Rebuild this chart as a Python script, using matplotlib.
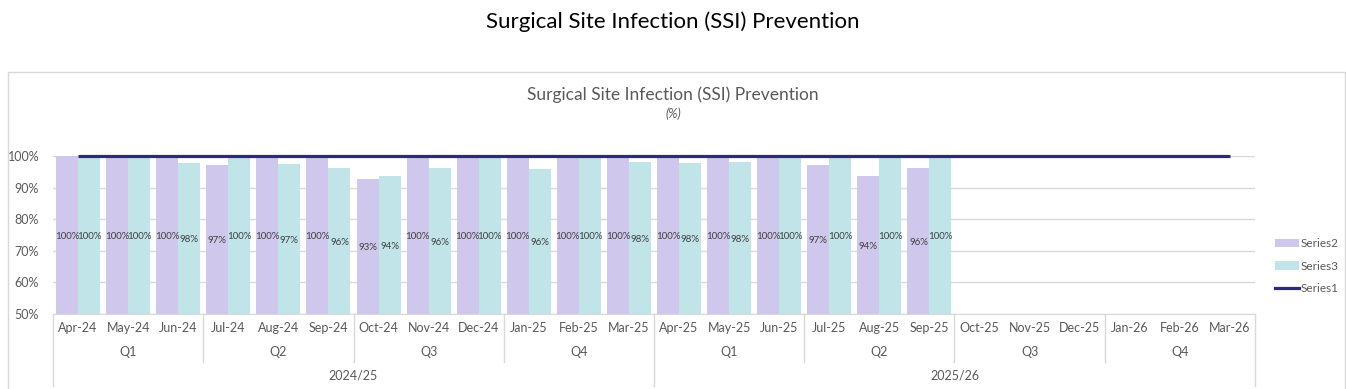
import numpy as np
import matplotlib
matplotlib.use("Agg")
import matplotlib.pyplot as plt
from matplotlib.patches import Rectangle, Patch
from matplotlib.lines import Line2D
import matplotlib.transforms as mtransforms

months = ["Apr-24", "May-24", "Jun-24", "Jul-24", "Aug-24", "Sep-24", "Oct-24", "Nov-24",
          "Dec-24", "Jan-25", "Feb-25", "Mar-25", "Apr-25", "May-25", "Jun-25", "Jul-25",
          "Aug-25", "Sep-25", "Oct-25", "Nov-25", "Dec-25", "Jan-26", "Feb-26", "Mar-26"]
quarters = ["Q1", "Q2", "Q3", "Q4", "Q1", "Q2", "Q3", "Q4"]
years = ["2024/25", "2025/26"]
nan = np.nan
series2 = [100, 100, 100, 97.1, 100, 100, 92.7, 100, 100, 100, 100, 100,
           100, 100, 100, 97.2, 93.7, 96.2, nan, nan, nan, nan, nan, nan]
series3 = [100, 100, 97.8, 100, 97.4, 96.2, 93.6, 96.2, 100, 95.9, 100, 98.1,
           97.8, 98.1, 100, 100, 100, 100, nan, nan, nan, nan, nan, nan]
series1 = [100] * 24

plt.rcParams['font.family'] = ['Lato', 'DejaVu Sans']
W, H = 1346, 389
fig = plt.figure(figsize=(W / 100, H / 100), dpi=100)

def fx(px):
    return px / W

def fy(py):
    return 1 - py / H

# chart area border
fig.patches.append(Rectangle((fx(8), fy(395)), fx(1345) - fx(8), fy(72) - fy(395),
                             transform=fig.transFigure, fill=False, edgecolor="#D9D9D9", lw=1))

fig.text(0.5, fy(22), "Surgical Site Infection (SSI) Prevention", ha="center", va="center",
         fontsize=16, color="black")
fig.text(0.5, fy(95), "Surgical Site Infection (SSI) Prevention", ha="center", va="center",
         fontsize=12.5, color="#595959")
fig.text(0.5, fy(114), "(%)", ha="center", va="center", fontsize=9, style="italic", color="#595959")

left, right, top, bottom = 53, 1255, 156, 314
ax = fig.add_axes([fx(left), fy(bottom), fx(right) - fx(left), fy(top) - fy(bottom)])
x = np.arange(len(months))
c2 = "#D0C8EC"
c3 = "#C0E4E8"
cl = "#2E2A7A"
bw = 0.44
ax.bar(x - bw, series2, width=bw, align="edge", color=c2, bottom=0)
ax.bar(x, series3, width=bw, align="edge", color=c3, bottom=0)
ax.plot(x, series1, color=cl, lw=2.3, clip_on=False, zorder=5, solid_capstyle="butt")
ax.set_ylim(50, 100)
ax.set_xlim(-0.5, len(months) - 0.5)
ax.set_yticks([50, 60, 70, 80, 90, 100])
ax.set_yticklabels([f"{v}%" for v in [50, 60, 70, 80, 90, 100]], fontsize=9, color="#595959")
ax.tick_params(axis="y", length=0, pad=10)
ax.tick_params(axis="x", length=0, labelbottom=False)
ax.grid(axis="y", color="#D9D9D9", lw=1)
ax.set_axisbelow(True)
for s in ["top", "right", "left"]:
    ax.spines[s].set_visible(False)
ax.spines["bottom"].set_color("#D9D9D9")

for xi, v in zip(x, series2):
    if not np.isnan(v):
        ax.text(xi - bw / 2, (50 + v) / 2 - 0.4, f"{v:.0f}%", ha="center", va="center",
                fontsize=7, color="#404040")
for xi, v in zip(x, series3):
    if not np.isnan(v):
        ax.text(xi + bw / 2, (50 + v) / 2 - 0.4, f"{v:.0f}%", ha="center", va="center",
                fontsize=7, color="#404040")

trans = mtransforms.blended_transform_factory(ax.transData, fig.transFigure)
for xi, m in zip(x, months):
    ax.text(xi, fy(328), m, transform=trans, ha="center", va="center", fontsize=9, color="#595959")
for qi, q in enumerate(quarters):
    ax.text(qi * 3 + 1, fy(352), q, transform=trans, ha="center", va="center", fontsize=9, color="#595959")
for yi, yl in enumerate(years):
    ax.text(yi * 12 + 5.5, fy(376), yl, transform=trans, ha="center", va="center", fontsize=9, color="#595959")

for b in range(0, 25, 3):
    xb = b - 0.5
    ybot = fy(386) if b % 12 == 0 else fy(362)
    fig.add_artist(Line2D([xb, xb], [fy(bottom), ybot], transform=trans, color="#D9D9D9", lw=1))

handles = [Patch(facecolor=c2, edgecolor="none"), Patch(facecolor=c3, edgecolor="none"),
           Line2D([], [], color=cl, lw=2.3)]
fig.legend(handles, ["Series2", "Series3", "Series1"], loc="center left",
           bbox_to_anchor=(fx(1275), fy(266)), frameon=False, fontsize=8.5,
           labelcolor="#595959", handlelength=2.0, handleheight=0.7, handletextpad=0.15,
           labelspacing=0.95, borderpad=0, borderaxespad=0)

fig.savefig("out.png", dpi=100)
